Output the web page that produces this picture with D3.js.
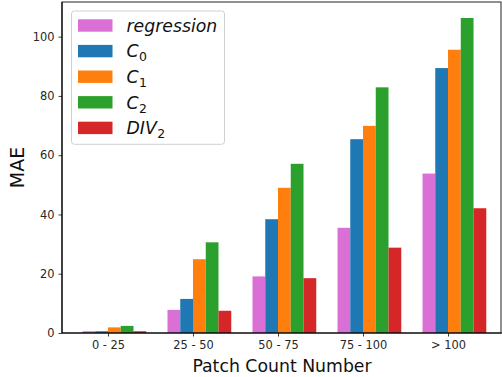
<!DOCTYPE html>
<html><head><meta charset="utf-8">
<script src="https://cdn.jsdelivr.net/npm/d3@7"></script>
<style>html,body{margin:0;padding:0;background:#fff;}svg{display:block;}</style>
</head><body>
<svg id="c" width="502" height="377"></svg>
<script>
const categories = ["0 - 25", "25 - 50", "50 - 75", "75 - 100", "> 100"];
const seriesNames = ["regression", "C0", "C1", "C2", "DIV2"];
const regression = [0.6, 7.8, 19.1, 35.5, 53.8];
const C0 = [0.6, 11.5, 38.4, 65.4, 89.4];
const C1 = [1.9, 24.9, 49.0, 69.9, 95.6];
const C2 = [2.4, 30.6, 57.1, 82.9, 106.3];
const DIV2 = [0.6, 7.5, 18.5, 28.8, 42.1];
const yTicks = [0, 20, 40, 60, 80, 100];
const colors = ["#da70d6", "#1f77b4", "#ff7f0e", "#2ca02c", "#d62728"];
const series = [regression, C0, C1, C2, DIV2];

const svg = d3.select("#c");
const L = 62, R = 502, T = 2, B = 333;
const x = d3.scaleLinear().domain([-0.541, 4.635]).range([L, R]);
const y = d3.scaleLinear().domain([0, 111.7]).range([B, T]);
const bw = 0.15;
const font = "DejaVu Sans, sans-serif";

// bars
series.forEach((vals, k) => {
  svg.append("g").selectAll("rect").data(vals).join("rect")
    .attr("x", (d, i) => x(i + (k - 2) * bw))
    .attr("width", (d, i) => x(i + (k - 1) * bw) - x(i + (k - 2) * bw))
    .attr("y", d => y(d))
    .attr("height", d => y(0) - y(d))
    .attr("fill", colors[k]);
});

// axes
const xAxis = d3.axisBottom(x).tickValues(d3.range(categories.length))
  .tickFormat(i => categories[i]).tickSize(3.5).tickPadding(4);
const gx = svg.append("g").attr("transform", `translate(0,${B})`).call(xAxis);
const yAxis = d3.axisLeft(y).tickValues(yTicks).tickSize(3.5).tickPadding(4);
const gy = svg.append("g").attr("transform", `translate(${L},0)`).call(yAxis);
[gx, gy].forEach(g => {
  g.select(".domain").remove();
  g.selectAll("text").attr("font-family", font).attr("font-size", 11.4).attr("fill", "#262626");
  g.selectAll("line").attr("stroke", "#262626").attr("stroke-width", 0.9);
});

// frame
svg.append("rect").attr("x", L).attr("y", T).attr("width", R - 1 - L).attr("height", B - T)
  .attr("fill", "none").attr("stroke", "#222").attr("stroke-width", 1);
svg.append("line").attr("x1", L).attr("x2", L).attr("y1", T).attr("y2", B).attr("stroke", "#000").attr("stroke-width", 1.1);
svg.append("line").attr("x1", L).attr("x2", R).attr("y1", B).attr("y2", B).attr("stroke", "#000").attr("stroke-width", 1.1);

// axis labels
svg.append("text").attr("x", (L + R) / 2).attr("y", 371.5).attr("text-anchor", "middle")
  .attr("font-family", font).attr("font-size", 17.3).attr("fill", "#111").text("Patch Count Number");
svg.append("text").attr("transform", `translate(23.5,${(T + B) / 2}) rotate(-90)`).attr("text-anchor", "middle")
  .attr("font-family", font).attr("font-size", 19).attr("fill", "#111").text("MAE");

// legend
const lg = svg.append("g");
lg.append("rect").attr("x", 71.5).attr("y", 11).attr("width", 153).attr("height", 133.3)
  .attr("rx", 3).attr("fill", "#fff").attr("fill-opacity", 0.85).attr("stroke", "#d0d0d0").attr("stroke-width", 1);
const labelParts = [["regression", ""], ["C", "0"], ["C", "1"], ["C", "2"], ["DIV", "2"]];
seriesNames.forEach((name, k) => {
  const cy = 25.5 + k * 25.6;
  lg.append("rect").attr("x", 78).attr("y", cy - 6.2).attr("width", 34.5).attr("height", 12.4).attr("fill", colors[k]);
  const t = lg.append("text").attr("x", 126.5).attr("y", cy + 6.2)
    .attr("font-family", font).attr("font-size", 17.3).attr("fill", "#111");
  t.append("tspan").attr("font-style", "italic").text(labelParts[k][0]);
  if (labelParts[k][1]) {
    t.append("tspan").attr("font-size", 12.5).attr("dy", 4).attr("dx", 0.5).text(labelParts[k][1]);
  }
});
</script>
</body></html>
